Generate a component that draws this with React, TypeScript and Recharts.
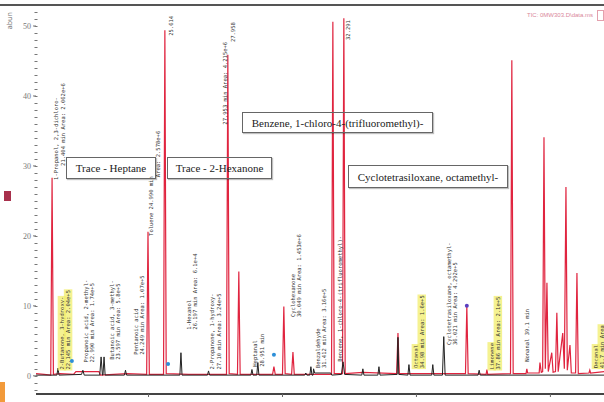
import React from 'react';
import { LineChart, Line, XAxis, YAxis, ReferenceDot } from 'recharts';

// retention time (min), abundance (x1000)
const redTrace: [number, number][] = [
  [20.8, 0.3], [21.1, 0.2], [21.35, 0.1], [21.4, 28.3], [21.45, 0.2], [21.7, 0.3], [22.2, 0.2], [22.29, 0.6],
  [23.15, 0.6], [23.2, 0.1], [24.2, 0.3], [24.93, 0.2], [24.98, 20.6], [25.03, 0.2], [25.56, 0.2], [25.61, 49.4],
  [25.66, 0.3], [26.5, 0.2], [27.91, 0.2], [27.96, 45.9], [28.01, 0.3], [28.32, 0.2], [28.37, 14.9], [28.42, 0.2],
  [29.63, 0.2], [29.68, 1.3], [29.73, 0.2], [30.0, 0.2], [30.05, 9.9], [30.1, 0.3], [30.34, 0.2], [30.39, 3.4],
  [30.44, 0.2], [31.83, 0.2], [31.88, 50.6], [31.93, 0.3], [32.24, 0.3], [32.29, 51.1], [32.34, 0.3], [33.0, 0.5],
  [34.26, 0.3], [34.31, 6.1], [34.36, 0.3], [36.83, 0.3], [36.88, 9.9], [36.93, 0.3], [37.6, 0.2], [37.63, 0.9],
  [37.66, 0.2], [38.51, 0.3], [38.56, 45.1], [38.61, 0.3], [39.09, 0.3], [39.12, 1.0], [39.15, 0.4], [39.58, 0.4],
  [39.61, 1.9], [39.66, 0.5], [39.71, 0.6], [39.76, 34.1], [39.81, 1.0], [39.87, 13.3], [39.92, 0.6], [40.05, 3.3],
  [40.1, 0.5], [40.19, 0.6], [40.24, 9.0], [40.29, 0.6], [40.46, 6.1], [40.52, 1.0], [40.58, 27.0], [40.63, 0.8],
  [40.73, 4.4], [40.78, 0.4], [40.94, 0.4], [40.99, 14.7], [41.04, 0.3], [41.44, 0.4], [41.47, 0.8], [41.5, 0.4],
  [42.0, 0.6],
];

const blackTrace: [number, number][] = [
  [20.8, 0.1], [21.58, 0.1], [21.62, 1.1], [21.66, 0.1], [22.5, 0.2], [22.55, 0.8], [22.6, 0.1], [23.18, 0.1],
  [23.23, 2.7], [23.28, 0.1], [23.3, 0.1], [23.34, 2.7], [23.38, 0.1], [24.1, 0.1], [24.14, 0.8], [24.18, 0.1],
  [26.17, 0.1], [26.21, 3.3], [26.25, 0.1], [27.2, 0.1], [27.24, 0.7], [27.28, 0.1], [28.82, 0.1], [28.86, 0.9],
  [28.9, 0.1], [29.04, 0.1], [29.08, 1.9], [29.12, 0.1], [30.83, 0.1], [30.87, 0.4], [30.91, 0.1], [31.02, 0.1],
  [31.06, 1.3], [31.1, 0.1], [31.14, 0.1], [31.16, 1.0], [31.2, 0.4], [31.8, 0.4], [31.84, 0.1], [32.2, 0.2],
  [32.26, 2.0], [32.32, 0.2], [32.96, 0.1], [33.0, 1.0], [33.04, 0.1], [33.56, 0.1], [33.6, 1.3], [33.64, 0.1],
  [34.28, 0.2], [34.31, 5.5], [34.34, 0.2], [34.68, 0.1], [34.72, 1.6], [34.76, 0.1], [35.57, 0.1], [35.61, 1.6],
  [35.65, 0.1], [35.97, 0.1], [36.02, 5.6], [36.07, 0.1], [37.3, 0.1], [37.34, 0.8], [37.38, 0.1], [42.0, 0.1],
];

const xTicks = [25, 30, 35, 40];
const yTicks = [0, 10, 20, 30, 40, 50];

type PeakNote = { t: number; v: number; text: string; hl?: boolean };

const peakNotes: PeakNote[] = [
  { t: 21.55, v: 28.0, text: '1-Propanol, 2,3-dichloro-' },
  { t: 21.8, v: 30.0, text: '21.404 min Area: 2.062e+6' },
  { t: 25.09, v: 20.0, text: 'Toluene 24.990 min' },
  { t: 25.35, v: 28.4, text: 'Area: 2.578e+6' },
  { t: 25.84, v: 48.6, text: '25.614' },
  { t: 27.85, v: 35.9, text: '27.953 min Area: 4.215e+6' },
  { t: 28.15, v: 47.7, text: '27.958' },
  { t: 32.44, v: 48.0, text: '32.291' },
  { t: 21.77, v: 0.9, text: '2-Butanone, 3-hydroxy-', hl: true },
  { t: 22.0, v: 0.9, text: '22.145 min Area: 2.04e+5', hl: true },
  { t: 22.67, v: 1.9, text: 'Propanoic acid, 2-methyl-' },
  { t: 22.89, v: 1.9, text: '22.990 min Area: 1.74e+5' },
  { t: 23.64, v: 2.3, text: 'Butanoic acid, 3-methyl-' },
  { t: 23.86, v: 2.3, text: '23.597 min Area: 5.8e+5' },
  { t: 24.53, v: 3.0, text: 'Pentanoic acid' },
  { t: 24.76, v: 3.0, text: '24.249 min Area: 1.07e+5' },
  { t: 26.51, v: 6.6, text: '1-Hexanol' },
  { t: 26.73, v: 6.6, text: '26.197 min Area: 6.1e+4' },
  { t: 27.37, v: 0.9, text: '2-Propanone, 1-hydroxy-' },
  { t: 27.63, v: 0.9, text: '27.10 min Area: 3.24e+5' },
  { t: 28.97, v: 1.3, text: 'Heptanal' },
  { t: 29.23, v: 1.3, text: '28.951 min' },
  { t: 30.39, v: 8.4, text: 'Cyclohexanone' },
  { t: 30.61, v: 8.4, text: '30.049 min Area: 1.453e+6' },
  { t: 31.32, v: 1.1, text: 'Benzaldehyde' },
  { t: 31.55, v: 1.1, text: '31.412 min Area: 3.16e+5' },
  { t: 32.14, v: 2.0, text: 'Benzene, 1-chloro-4-(trifluoromethyl)-' },
  { t: 34.98, v: 1.1, text: 'Octanal', hl: true },
  { t: 35.2, v: 1.1, text: '34.98 min Area: 1.6e+5', hl: true },
  { t: 36.21, v: 4.4, text: 'Cyclotetrasiloxane, octamethyl-' },
  { t: 36.43, v: 4.4, text: '36.021 min Area: 4.292e+5' },
  { t: 37.81, v: 0.9, text: 'Limonene', hl: true },
  { t: 38.04, v: 0.9, text: '37.86 min Area: 2.1e+5', hl: true },
  { t: 39.12, v: 2.0, text: 'Nonanal 39.1 min' },
  { t: 41.7, v: 1.1, text: 'Decanal', hl: true },
  { t: 41.92, v: 1.1, text: '41.7 min Area', hl: true },
];

const markers = [
  { t: 22.14, v: 2.1, color: '#2d8fd8' },
  { t: 25.73, v: 1.7, color: '#2d8fd8' },
  { t: 29.68, v: 3.0, color: '#2d8fd8' },
  { t: 36.88, v: 10.0, color: '#5a3fc0' },
];

const boxes = [
  { text: 'Trace - Heptane', left: 66, top: 157, width: 90, height: 22 },
  { text: 'Trace - 2-Hexanone', left: 167, top: 157, width: 105, height: 22 },
  { text: 'Benzene, 1-chloro-4-(trifluoromethyl)-', left: 242, top: 112, width: 191, height: 21 },
  { text: 'Cyclotetrasiloxane, octamethyl-', left: 348, top: 165, width: 160, height: 23 },
];

const toRows = (pts: [number, number][]) => pts.map(([t, v]) => ({ t, v }));

function RotLabel({ cx, cy, text, hl }: { cx?: number; cy?: number; text: string; hl?: boolean }) {
  if (cx == null || cy == null) return null;
  const fs = 5.5;
  const w = text.length * fs * 0.6;
  return (
    <g transform={`rotate(-90 ${cx} ${cy})`}>
      {hl && <rect x={cx - 1} y={cy - fs * 0.6 - 1} width={w + 2} height={fs + 3} fill="#f2ee6c" opacity={0.75} />}
      <text x={cx} y={cy} dy={fs * 0.35} fontSize={fs} fontFamily="DejaVu Sans Mono" fill="#333">
        {text}
      </text>
    </g>
  );
}

const serif = '"Liberation Serif", "DejaVu Serif", serif';

export default function App() {
  return (
    <div style={{ position: 'absolute', left: 0, top: 0, width: 604, height: 402, background: '#fff', overflow: 'hidden', fontFamily: serif }}>
      <LineChart width={604} height={402} margin={{ top: 5, right: 0, bottom: 0, left: 0 }}>
        <XAxis
          dataKey="t"
          type="number"
          domain={[20.8, 42]}
          ticks={xTicks}
          allowDataOverflow
          height={8}
          axisLine={{ stroke: '#444', strokeWidth: 2 }}
          tickLine={{ stroke: '#666' }}
          tickSize={3}
          tick={() => <g />}
        />
        <YAxis
          type="number"
          domain={[-2.6, 53]}
          ticks={yTicks}
          allowDataOverflow
          width={36}
          axisLine={{ stroke: '#777', strokeWidth: 3, strokeDasharray: '1 6' }}
          tickLine={{ stroke: '#777' }}
          tickSize={3}
          tick={{ fontSize: 8, fill: '#777' }}
        />
        <Line data={toRows(redTrace)} dataKey="v" type="linear" stroke="#e0243f" strokeWidth={1.2} dot={false} isAnimationActive={false} />
        <Line data={toRows(blackTrace)} dataKey="v" type="linear" stroke="#222" strokeWidth={1} dot={false} isAnimationActive={false} />
        {peakNotes.map((n, i) => (
          <ReferenceDot key={'n' + i} x={n.t} y={n.v} r={0} shape={(p: any) => <RotLabel cx={p.cx} cy={p.cy} text={n.text} hl={n.hl} />} />
        ))}
        {markers.map((m, i) => (
          <ReferenceDot key={'m' + i} x={m.t} y={m.v} r={2} fill={m.color} stroke="none" />
        ))}
      </LineChart>

      <div style={{ position: 'absolute', left: 0, top: 4, width: 604, height: 2, background: '#555' }} />
      <div style={{ position: 'absolute', left: 6, top: 12, fontSize: 7, color: '#777', fontFamily: 'DejaVu Sans', writingMode: 'vertical-rl', transform: 'rotate(180deg)' }}>abun</div>
      <div style={{ position: 'absolute', left: 527, top: 12, fontSize: 6, color: '#d9879a', fontFamily: '"Liberation Sans"', whiteSpace: 'nowrap' }}>TIC: 0MW303.D\data.ms</div>
      <div style={{ position: 'absolute', left: 597, top: 10, width: 5, height: 9, border: '1px solid #e3a0ad' }} />
      <div style={{ position: 'absolute', left: 4, top: 191, width: 7, height: 10, background: '#a8304c' }} />
      <div style={{ position: 'absolute', left: 0, top: 382, width: 5, height: 20, background: '#f29a3a' }} />
      {boxes.map((b, i) => (
        <div
          key={i}
          style={{
            position: 'absolute',
            left: b.left,
            top: b.top,
            width: b.width,
            height: b.height,
            boxSizing: 'border-box',
            border: '1px solid #666',
            boxShadow: '1px 1px 1px rgba(0,0,0,0.25)',
            fontFamily: serif,
            fontSize: 11,
            color: '#222',
            display: 'flex',
            alignItems: 'center',
            justifyContent: 'center',
            whiteSpace: 'nowrap',
            pointerEvents: 'none',
          }}
        >
          {b.text}
        </div>
      ))}
    </div>
  );
}
